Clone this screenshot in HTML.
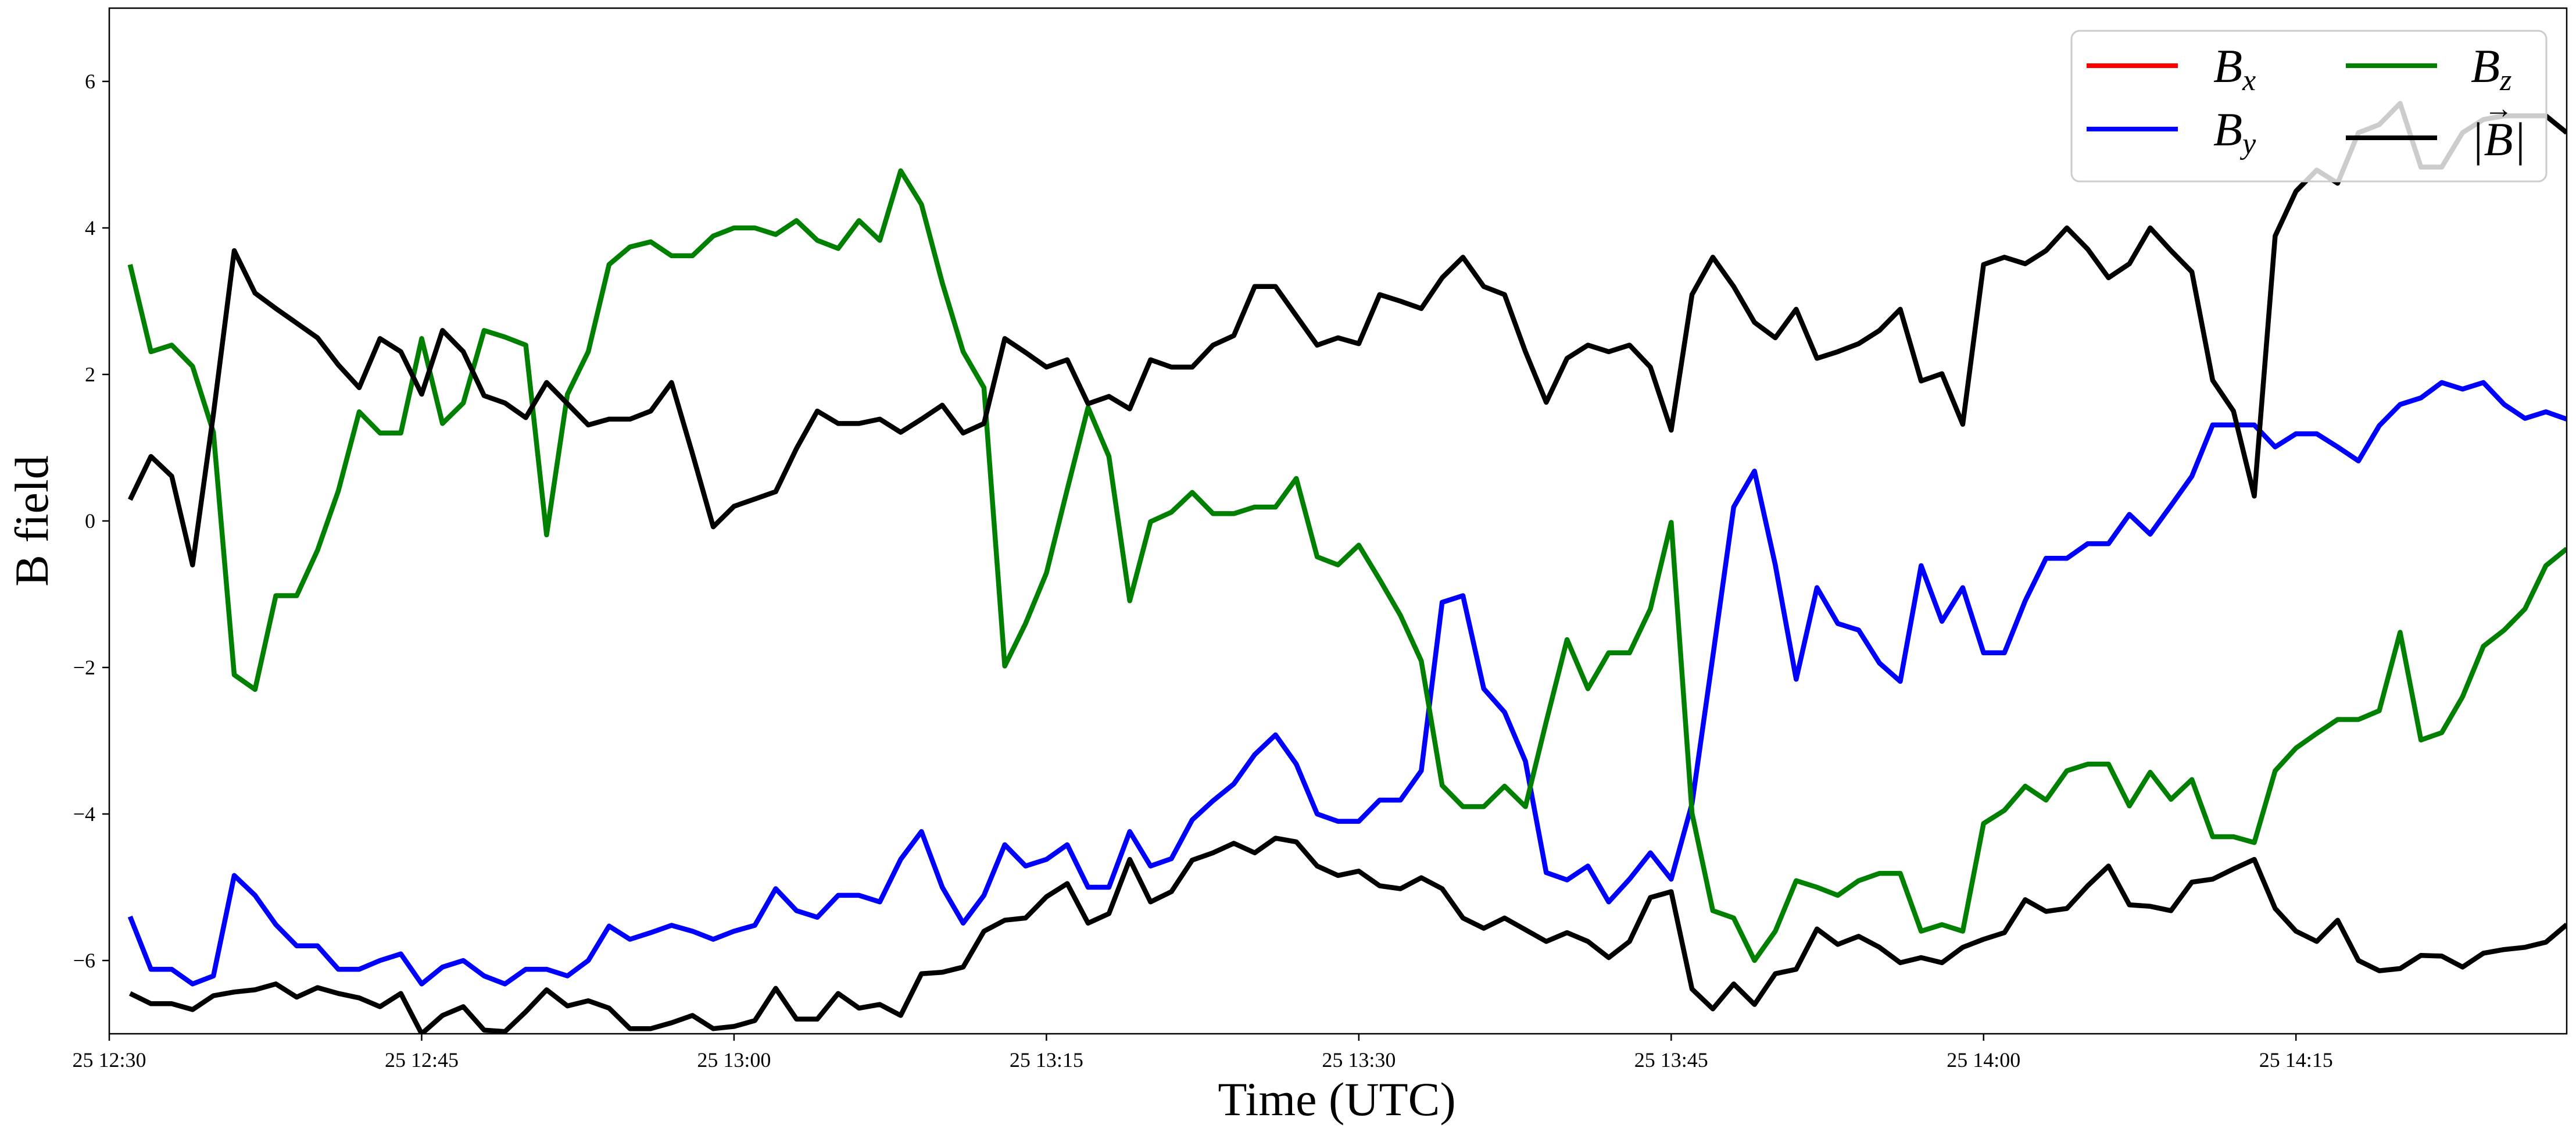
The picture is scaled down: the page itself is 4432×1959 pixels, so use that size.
<!DOCTYPE html>
<html><head><meta charset="utf-8"><style>
html,body{margin:0;padding:0;background:#fff;}
svg{display:block;font-family:"Liberation Serif","DejaVu Serif",serif;}
</style></head><body>
<svg id="chart" xmlns="http://www.w3.org/2000/svg" width="4432" height="1959" viewBox="0 0 4432 1959">
<rect x="0" y="0" width="4432" height="1959" fill="#fff"/>
<g id="grid-ticks"></g>
<g id="series"></g>
<rect x="188" y="14" width="4228" height="1764" fill="none" stroke="#000" stroke-width="2.5"/>
<g id="legend"></g>
<text x="2300" y="1918" font-size="82" text-anchor="middle">Time (UTC)</text>
<text x="0" y="0" font-size="82" text-anchor="middle" transform="translate(82,896) rotate(-90)">B field</text>
</svg>
<script>
// time index = minutes after 12:30 (1..118)
const bz = [3.5,2.31,2.4,2.11,1.21,-2.1,-2.3,-1.02,-1.02,-0.4,
0.41,1.49,1.2,1.2,2.49,1.33,1.61,2.6,2.51,2.4,
-0.19,1.73,2.31,3.5,3.74,3.81,3.62,3.62,3.89,4.0,
4.0,3.91,4.1,3.83,3.72,4.1,3.83,4.78,4.32,3.25,
2.31,1.82,-1.98,-1.4,-0.71,0.43,1.55,0.88,-1.09,-0.01,
0.12,0.39,0.1,0.1,0.19,0.19,0.58,-0.49,-0.6,-0.33,
-0.8,-1.29,-1.91,-3.61,-3.9,-3.9,-3.62,-3.9,-2.74,-1.62,
-2.29,-1.8,-1.8,-1.2,-0.02,-3.99,-5.32,-5.42,-6.0,
-5.6,-4.91,-5.0,-5.11,-4.91,-4.81,-4.81,-5.6,-5.51,-5.6,
-4.13,-3.95,-3.62,-3.81,-3.41,-3.32,-3.32,-3.89,-3.43,-3.8,
-3.53,-4.31,-4.31,-4.39,-3.41,-3.1,-2.9,-2.71,-2.71,-2.59,
-1.52,-2.99,-2.89,-2.4,-1.71,-1.49,-1.2,-0.61,-0.38];
const by = [-5.4,-6.12,-6.12,-6.32,-6.21,-4.84,-5.11,-5.51,-5.8,-5.8,
-6.12,-6.12,-6.0,-5.91,-6.32,-6.09,-6.0,-6.21,-6.32,-6.12,
-6.12,-6.21,-6.0,-5.53,-5.71,-5.62,-5.52,-5.6,-5.71,-5.6,
-5.52,-5.02,-5.32,-5.41,-5.11,-5.11,-5.2,-4.62,-4.24,-5.0,
-5.49,-5.11,-4.42,-4.71,-4.62,-4.42,-5.0,-5.0,-4.24,-4.71,
-4.61,-4.08,-3.82,-3.59,-3.19,-2.92,-3.32,-4.0,-4.1,-4.1,
-3.81,-3.81,-3.41,-1.11,-1.02,-2.29,-2.61,-3.28,-4.8,-4.9,
-4.71,-5.2,-4.89,-4.53,-4.89,-3.86,-1.85,0.19,0.68,
-0.6,-2.16,-0.91,-1.4,-1.49,-1.94,-2.19,-0.61,-1.37,-0.91,
-1.8,-1.8,-1.09,-0.51,-0.51,-0.31,-0.31,0.09,-0.18,0.21,
0.61,1.31,1.31,1.31,1.01,1.19,1.19,1.01,0.82,1.3,
1.59,1.68,1.89,1.8,1.89,1.59,1.4,1.49,1.39];
const bmag = [0.29,0.88,0.61,-0.6,1.46,3.69,3.11,2.9,2.7,2.5,
2.13,1.82,2.49,2.31,1.73,2.6,2.31,1.71,1.61,1.41,
1.89,1.6,1.31,1.39,1.39,1.5,1.89,0.92,-0.08,0.2,
0.3,0.4,0.99,1.5,1.33,1.33,1.39,1.21,1.39,1.58,
1.2,1.33,2.49,2.3,2.1,2.2,1.6,1.7,1.53,2.2,
2.1,2.1,2.4,2.53,3.2,3.2,2.8,2.4,2.5,2.42,
3.09,3.0,2.9,3.32,3.6,3.2,3.09,2.31,1.62,2.22,
2.4,2.31,2.4,2.1,1.24,3.09,3.6,3.2,2.71,
2.5,2.89,2.22,2.31,2.42,2.6,2.89,1.91,2.01,1.32,
3.5,3.6,3.51,3.69,4.0,3.71,3.32,3.51,4.0,3.69,
3.4,1.92,1.5,0.34,3.89,4.5,4.79,4.61,5.3,5.41,
5.7,4.83,4.83,5.3,5.48,5.53,5.53,5.53,5.3];
const bmag2 = [-6.45,-6.59,-6.59,-6.67,-6.48,-6.43,-6.4,-6.32,-6.5,-6.37,
-6.45,-6.51,-6.63,-6.45,-7.0,-6.75,-6.63,-6.95,-6.97,-6.7,
-6.4,-6.62,-6.55,-6.65,-6.93,-6.93,-6.85,-6.75,-6.93,-6.9,
-6.82,-6.38,-6.8,-6.8,-6.45,-6.65,-6.6,-6.75,-6.18,-6.16,
-6.09,-5.6,-5.45,-5.42,-5.13,-4.95,-5.49,-5.36,-4.62,-5.2,
-5.06,-4.63,-4.53,-4.4,-4.53,-4.33,-4.38,-4.71,-4.84,-4.78,
-4.98,-5.02,-4.87,-5.02,-5.42,-5.56,-5.42,-5.58,-5.74,-5.62,
-5.74,-5.96,-5.74,-5.14,-5.06,-6.39,-6.66,-6.32,-6.6,
-6.18,-6.12,-5.57,-5.78,-5.67,-5.82,-6.03,-5.96,-6.03,-5.82,
-5.71,-5.62,-5.17,-5.33,-5.29,-4.98,-4.71,-5.24,-5.26,-5.32,
-4.93,-4.89,-4.75,-4.62,-5.29,-5.6,-5.74,-5.45,-6.0,-6.14,
-6.11,-5.93,-5.94,-6.09,-5.9,-5.85,-5.82,-5.75,-5.51];
const xTickMinutes = [0,15,30,45,60,75,90,105];
const xTickLabels = ["25 12:30","25 12:45","25 13:00","25 13:15","25 13:30","25 13:45","25 14:00","25 14:15"];
const yTicks = [-6,-4,-2,0,2,4,6];
const legendLabels = ["Bx","By","Bz","|B|"];

const NS = "http://www.w3.org/2000/svg";
const X0 = 188, X1 = 4416, Y0 = 14, Y1 = 1778;
const XMIN = 0, XMAX = 118, YMIN = -7, YMAX = 7;
function xs(m){ return X0 + (m - XMIN) / (XMAX - XMIN) * (X1 - X0); }
function ys(v){ return Y1 - (v - YMIN) / (YMAX - YMIN) * (Y1 - Y0); }
function mk(tag, attrs){ const e = document.createElementNS(NS, tag); for (const k in attrs) e.setAttribute(k, attrs[k]); return e; }

const axes = document.getElementById('grid-ticks');
xTickMinutes.forEach((m, i) => {
  const t = mk('line', {x1: xs(m), x2: xs(m), y1: Y1, y2: Y1 + 12, stroke: '#000', 'stroke-width': 2.5});
  
  
  axes.appendChild(t);
  const l = mk('text', {x: xs(m), y: Y1 + 57, 'font-size': 36, 'text-anchor': 'middle'});
  l.textContent = xTickLabels[i];
  
  
  axes.appendChild(l);
});
yTicks.forEach(v => {
  const t = mk('line', {x1: X0 - 12, x2: X0, y1: ys(v), y2: ys(v), stroke: '#000', 'stroke-width': 2.5});
  
  
  axes.appendChild(t);
  const l = mk('text', {x: X0 - 24, y: ys(v) + 12, 'font-size': 36, 'text-anchor': 'end'});
  l.textContent = v < 0 ? '\u2212' + Math.abs(v) : String(v);
  
  
  axes.appendChild(l);
});

const sg = document.getElementById('series');
const clip = mk('clipPath', {id: 'plotclip'});
clip.appendChild(mk('rect', {x: X0, y: Y0, width: X1 - X0, height: Y1 - Y0}));
document.getElementById('chart').insertBefore(clip, sg);
sg.setAttribute('clip-path', 'url(#plotclip)');
function drawSeries(arr, color, name){
  const pts = arr.map((v, i) => xs(i + 1).toFixed(1) + ',' + ys(v).toFixed(1)).join(' ');
  const p = mk('polyline', {points: pts, fill: 'none', stroke: color, 'stroke-width': 8.5, 'stroke-linejoin': 'round', 'stroke-linecap': 'butt'});
  
  
  sg.appendChild(p);
}
drawSeries(by, '#0000ff', 'by-line');
drawSeries(bz, '#008000', 'bz-line');
drawSeries(bmag, '#000000', 'bmag-line');
drawSeries(bmag2, '#000000', 'bmag-lower-line');

const lg = document.getElementById('legend');
const box = mk('rect', {x: 3564, y: 53, width: 817, height: 259, rx: 14, ry: 14, fill: 'rgba(255,255,255,0.8)', stroke: '#cccccc', 'stroke-width': 3});


lg.appendChild(box);
const entries = [
  {c: '#ff0000', lx: 3590, ly: 113, tx: 3808, base: 'B', sub: 'x'},
  {c: '#0000ff', lx: 3590, ly: 222, tx: 3808, base: 'B', sub: 'y'},
  {c: '#008000', lx: 4036, ly: 113, tx: 4251, base: 'B', sub: 'z'},
  {c: '#000000', lx: 4036, ly: 237, tx: 4251, base: '|B|', sub: ''}
];
entries.forEach((e, i) => {
  const ln = mk('line', {x1: e.lx, x2: e.lx + 157, y1: e.ly, y2: e.ly, stroke: e.c, 'stroke-width': 8});
  
  
  lg.appendChild(ln);
  const t = mk('text', {x: e.tx, y: e.ly + 28, 'font-size': 82, 'font-style': 'italic'});
  if (e.sub) {
    t.textContent = e.base;
    const s = mk('tspan', {'font-size': 52, dy: 14});
    s.textContent = e.sub;
    t.appendChild(s);
  } else {
    t.textContent = legendLabels[i];
    t.setAttribute('y', e.ly + 30);
    const arr = mk('text', {x: e.tx + 48, y: e.ly - 34, 'font-size': 50, 'text-anchor': 'middle'});
    arr.textContent = '\u2192';
    
    
    lg.appendChild(arr);
  }
  
  
  lg.appendChild(t);
});
</script>
</body></html>
